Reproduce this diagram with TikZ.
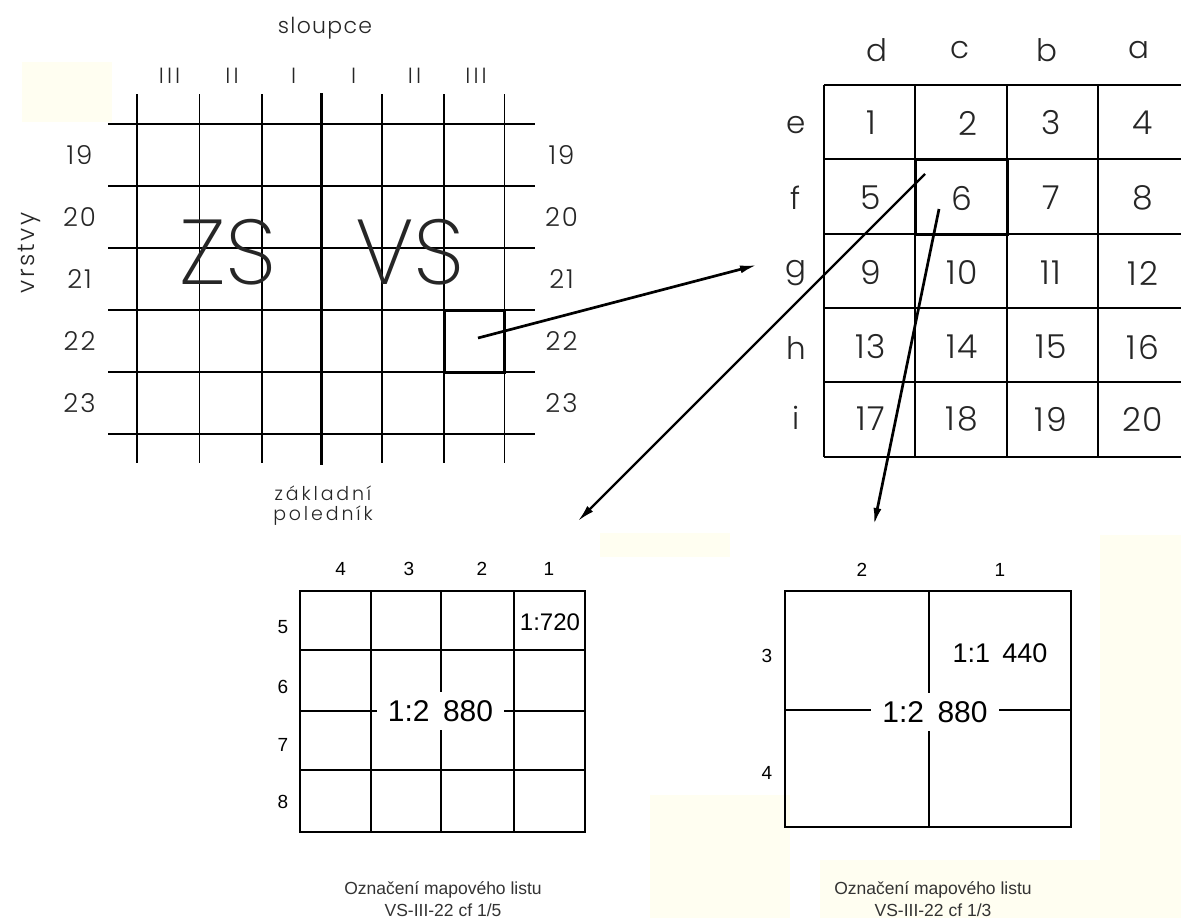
\documentclass[tikz,border=0pt]{standalone}
\usepackage{fontspec}
\usetikzlibrary{arrows.meta}
\IfFontExistsTF{Poppins Light}{\newfontfamily\cadf{Poppins Light}}{\IfFontExistsTF{Lato Light}{\newfontfamily\cadf{Lato Light}}{\newfontfamily\cadf{DejaVu Sans}}}
\IfFontExistsTF{Poppins ExtraLight}{\newfontfamily\bigf{Poppins ExtraLight}}{\IfFontExistsTF{Lato Hairline}{\newfontfamily\bigf{Lato Hairline}}{\let\bigf\cadf}}
\newfontfamily\arialf{Liberation Sans}
\definecolor{cream}{RGB}{255,254,241}
\begin{document}
\begin{tikzpicture}[x=1pt,y=-1pt,
  gline/.style={line width=1.3pt,black},
  bline/.style={line width=2pt,black},
  hbox/.style={draw,line width=3pt,minimum width=#1,inner sep=0pt},
  cad/.style={font=\cadf\fontsize{#1}{#1}\selectfont,text=black!85,inner sep=0pt,anchor=center},
  cadlab/.style={cad=22},
  tlnum/.style={cad=26},
  trnum/.style={cad=33},
  trlet/.style={cad=31},
  big/.style={font=\bigf\fontsize{92}{92}\selectfont,text=black!85,inner sep=0pt},
  ar/.style={font=\arialf\fontsize{#1}{#1}\selectfont,inner sep=0pt},
  captxt/.style={font=\arialf\fontsize{17.5}{19}\selectfont,text=black!80,inner sep=0pt},
  sclabel/.style={font=\arialf\fontsize{#1}{#1}\selectfont,fill=white,inner xsep=11pt,inner ysep=8pt},
  arr/.style={line width=2.7pt,-{Latex[length=17pt,width=8pt]}}
]
\path[use as bounding box,fill=white] (0,0) rectangle (1181,918);
% faint background patches
\fill[cream] (22,62) rectangle (112,122);
\fill[cream] (1100,535) rectangle (1181,918);
\fill[cream] (600,533) rectangle (730,557);
\fill[cream] (650,795) rectangle (790,918);
\fill[cream] (820,860) rectangle (1100,918);

% ===== top-left grid =====
\foreach \x in {137,199.5,262,382,444,504.5} \draw[gline] (\x,94) -- (\x,463);
\draw[line width=3.5pt] (321.5,93) -- (321.5,465);
\foreach \y in {124,186,248,310,372,434} \draw[gline] (108,\y) -- (535,\y);
\node[hbox=60.5pt,minimum height=62pt] (tlbox) at (474.25,341) {};
\node[cadlab] (sl) at (325,28) {\addfontfeatures{LetterSpace=6}sloupce};
\foreach \x/\t [count=\i] in {168/III,230.5/II,292/I,352/I,413/II,474.5/III}
  \node[cadlab] (col\i) at (\x,76) {\addfontfeatures{LetterSpace=14}\t\kern-0.14em};
\foreach \y/\t in {155/19,217/20,279/21,341/22,403/23}{
  \node[tlnum] (l\t) at (78.5,\y) {\addfontfeatures{LetterSpace=8}\t\kern-0.08em};
  \node[tlnum] (r\t) at (560.5,\y) {\addfontfeatures{LetterSpace=8}\t\kern-0.08em};
}
\node[cad=24,rotate=90] (vr) at (29,253) {\addfontfeatures{LetterSpace=10}vrstvy};
\node[big] (zs) at (228,252) {ZS};
\node[big] (vs) at (410,252) {VS};
\node[cad=19] (zak) at (323,493) {\addfontfeatures{LetterSpace=15}základní};
\node[cad=19] (pol) at (323,516) {\addfontfeatures{LetterSpace=15}poledník};

% ===== top-right grid =====
\foreach \x in {824,915,1007,1098} \draw[gline] (\x,85) -- (\x,457);
\foreach \y in {85,159,234,308,382,457} \draw[gline] (824,\y) -- (1181,\y);
\node[hbox=92pt,minimum height=75pt] (trbox) at (961,196.5) {};
\foreach \x/\t in {877/d,960/c,1047/b,1139/a} \node[trlet] (c\t) at (\x,50) {\t};
\foreach \y/\t in {125/e,198/f,273/g,348/h,418/i} \node[trlet] (row\t) at (796,\y) {\t};
\foreach \y [count=\r from 0] in {123,198,273,347,419}{
  \foreach \x [count=\c] in {870,961,1050,1142}{
    \pgfmathtruncatemacro{\n}{4*\r+\c}
    \ifnum\n=2 \node[trnum] (n\n) at (968,\y) {\n};
    \else \node[trnum] (n\n) at (\x,\y) {\addfontfeatures{LetterSpace=5}\n\kern-0.05em};\fi
  }
}

% ===== bottom-left grid =====
\draw[bline] (300,591) rectangle (585,831.5);
\foreach \x in {370.7,440.7,514.3} \draw[bline] (\x,591) -- (\x,831.5);
\foreach \y in {650,710.7,770} \draw[bline] (300,\y) -- (585,\y);
\node[sclabel=30] (bls) at (440.5,711) {1:2\hspace{0.45em}880};
\node[ar=24] (bl720) at (550,622) {1:720};
\foreach \x/\t in {340.7/4,409/3,482/2,549/1} \node[ar=19] (bc\t) at (\x,569) {\t};
\foreach \y/\t in {627/5,687/6,745/7,802/8} \node[ar=19] (br\t) at (283,\y) {\t};
\node[captxt] (capl1) at (443,890) {Označení mapového listu};
\node[captxt] (capl2) at (443,910) {VS-III-22 cf 1/5};

% ===== bottom-right grid =====
\draw[bline] (785,591) rectangle (1071,826.5);
\draw[bline] (929,591) -- (929,826.5);
\draw[bline] (785,710) -- (1071,710);
\node[sclabel=30] (brs) at (935,712) {1:2\hspace{0.45em}880};
\node[ar=27] (br1440) at (1000,653) {1:1\hspace{0.45em}440};
\node[ar=19] (brc2) at (862,570) {2};
\node[ar=19] (brc1) at (1000,570) {1};
\node[ar=19] (brr3) at (767,656) {3};
\node[ar=19] (brr4) at (767,773) {4};
\node[captxt] (capr1) at (933,890) {Označení mapového listu};
\node[captxt] (capr2) at (933,910) {VS-III-22 cf 1/3};

% ===== arrows =====
\coordinate (a1s) at (478,338);
\coordinate (a1e) at (757,265);
\coordinate (a2s) at (925,174);
\coordinate (a2e) at (578,521);
\coordinate (a3s) at (939,209);
\coordinate (a3e) at (874,525);
\draw[arr] (a1s) -- (a1e);
\draw[arr,line width=2.2pt] (a2s) -- (a2e);
\draw[arr] (a3s) -- (a3e);
\end{tikzpicture}
\end{document}
